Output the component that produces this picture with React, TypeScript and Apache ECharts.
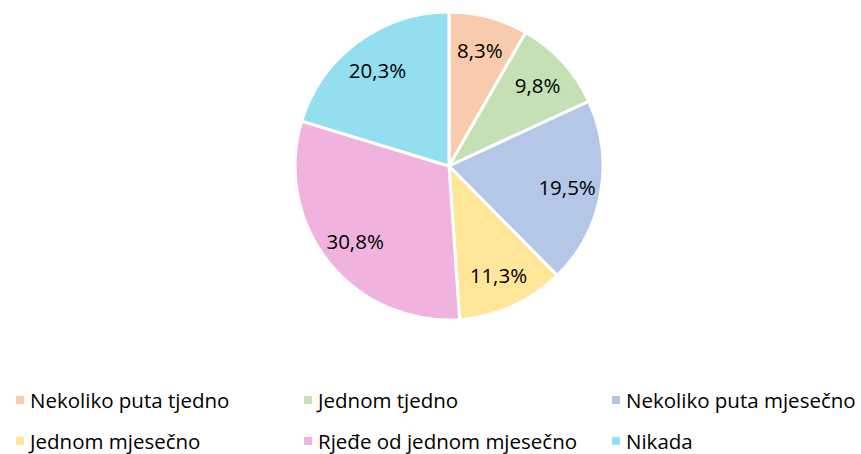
import React, { useEffect, useRef } from "react";
import * as echarts from "echarts";

const categories = [
  "Nekoliko puta tjedno",
  "Jednom tjedno",
  "Nekoliko puta mjesečno",
  "Jednom mjesečno",
  "Rjeđe od jednom mjesečno",
  "Nikada",
];
const values = [8.3, 9.8, 19.5, 11.3, 30.8, 20.3];
const colors = ["#F8CBAD", "#C5E0B4", "#B4C7E7", "#FFE699", "#EFB3DE", "#93DFEF"];

export default function App() {
  const ref = useRef<HTMLDivElement>(null);
  useEffect(() => {
    const chart = echarts.init(ref.current!, null, { renderer: "svg" });
    const data = categories.map((name, i) => ({
      name,
      value: values[i],
      itemStyle: { color: colors[i] },
    }));
    const font = "'Open Sans', sans-serif";
    const legendCol = (items: string[], left: number) => ({
      orient: "vertical",
      left,
      top: 389,
      padding: 0,
      data: items,
      icon: "rect",
      itemWidth: 10,
      itemHeight: 10,
      itemGap: 19,
      selectedMode: false,
      textStyle: { fontFamily: font, fontSize: 20.5, lineHeight: 22, color: "#000" },
    });
    chart.setOption({
      animation: false,
      color: colors,
      legend: [
        legendCol([categories[0], categories[3]], 14),
        legendCol([categories[1], categories[4]], 302),
        legendCol([categories[2], categories[5]], 610),
      ],
      series: [
        {
          type: "pie",
          center: [449, 166],
          radius: [0, 154],
          startAngle: 90,
          clockwise: true,
          data,
          label: { show: false },
          labelLine: { show: false },
          itemStyle: { borderColor: "#fff", borderWidth: 3 },
          emphasis: { disabled: true },
        },
        {
          type: "pie",
          center: [449, 166],
          radius: [80, 154],
          startAngle: 90,
          clockwise: true,
          silent: true,
          data: categories.map((name, i) => ({ name, value: values[i] })),
          itemStyle: { color: "rgba(0,0,0,0)", borderWidth: 0 },
          label: {
            show: true,
            position: "inside",
            fontFamily: font,
            fontSize: 20.5,
            color: "#000",
            formatter: (p: any) => p.value.toFixed(1).replace(".", ",") + "%",
          },
          labelLine: { show: false },
          emphasis: { disabled: true },
        },
      ],
    });
    return () => chart.dispose();
  }, []);
  return (
    <div
      ref={ref}
      style={{ position: "fixed", left: 0, top: 0, width: 861, height: 454, background: "#fff" }}
    />
  );
}
